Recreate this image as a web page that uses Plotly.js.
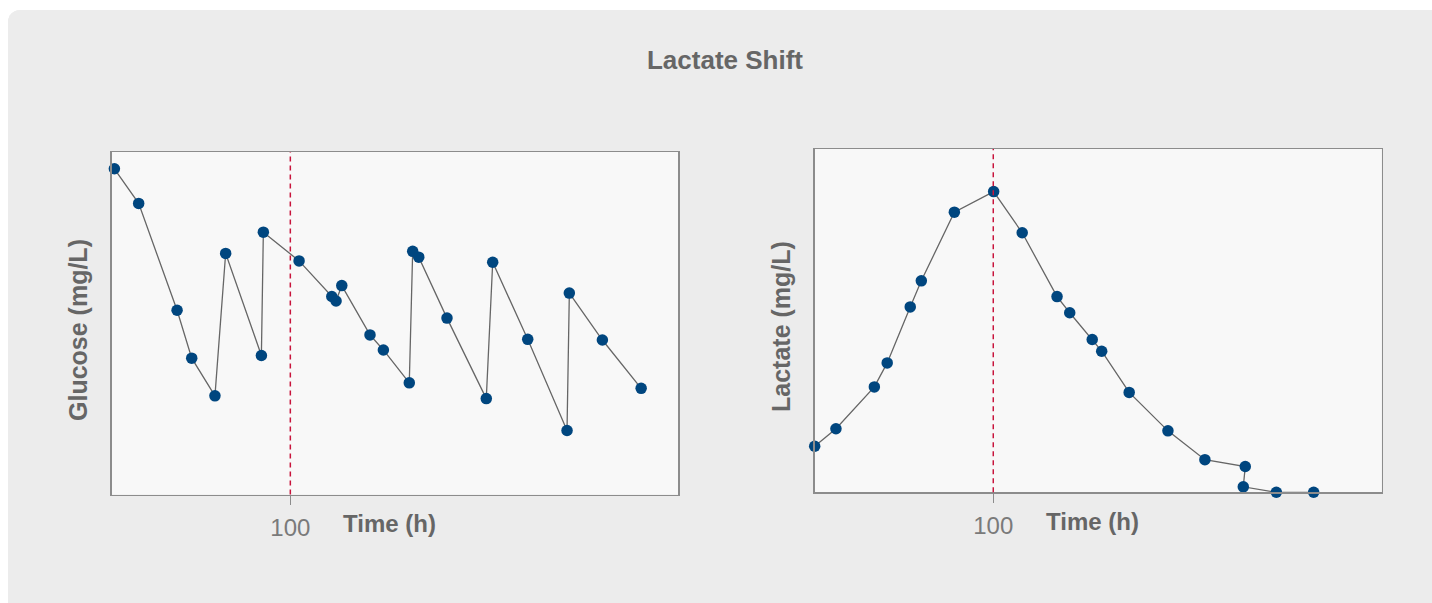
<!DOCTYPE html>
<html>
<head>
<meta charset="utf-8">
<script src="https://cdn.plot.ly/plotly-3.0.1.min.js"></script>
<style>
  html, body { margin: 0; padding: 0; background: #ffffff; overflow: hidden; width: 1432px; height: 603px; }
  #card { position: absolute; left: 8px; top: 10px; width: 1440px; height: 610px; border-radius: 12px; overflow: hidden; background: #ececec; }
  #chart { position: absolute; left: 0; top: 0; width: 1424px; height: 593px; }
</style>
</head>
<body>
<div id="card"><div id="chart"></div></div>
<script>
// Glucose panel (time in h, relative level)
const glucoseTime  = [1.5, 15.1, 36.6, 44.8, 57.8, 63.8, 83.8, 84.9, 104.9, 123.2, 125.6, 128.8, 144.6, 152.1, 166.6, 168.5, 171.9, 187.7, 209.7, 213.3, 232.9, 254.9, 256.2, 274.7, 296.4];
const glucoseValue = [95.1, 85.0, 53.8, 39.8, 28.8, 70.4, 40.6, 76.6, 68.2, 57.8, 56.5, 61.0, 46.6, 42.2, 32.6, 71.0, 69.3, 51.5, 28.0, 67.8, 45.3, 18.7, 58.8, 45.1, 31.0];

// Lactate panel
const lactateTime  = [0, 11.9, 33.4, 40.6, 53.5, 59.7, 78.2, 100.2, 116.2, 135.7, 142.8, 155.4, 160.7, 176.1, 197.8, 218.5, 241.1, 240.0, 258.5, 279.4];
const lactateValue = [13.4, 18.5, 30.7, 37.7, 54.0, 61.6, 81.6, 87.6, 75.6, 57.0, 52.3, 44.5, 41.1, 29.1, 17.9, 9.5, 7.5, 1.6, 0.0, 0.0];

const shiftTime = 100;
const tickValues = [100];
const tickLabels = ['100'];

const chartTitle = 'Lactate Shift';
const xTitle = 'Time (h)';
const glucoseTitle = 'Glucose (mg/L)';
const lactateTitle = 'Lactate (mg/L)';

const W = 1424, H = 593;
const px = v => v / W;
const py = v => 1 - v / H;

const lineStyle = { color: '#666666', width: 1.3 };
const markerStyle = { color: '#00467f', size: 11.5 };

const traces = [
  { x: glucoseTime, y: glucoseValue, xaxis: 'x', yaxis: 'y', type: 'scatter', mode: 'lines+markers',
    line: lineStyle, marker: markerStyle, cliponaxis: false, hoverinfo: 'skip' },
  { x: lactateTime, y: lactateValue, xaxis: 'x2', yaxis: 'y2', type: 'scatter', mode: 'lines+markers',
    line: lineStyle, marker: markerStyle, cliponaxis: false, hoverinfo: 'skip' }
];

const xCommon = {
  showgrid: false, zeroline: false, showline: true, mirror: true,
  linecolor: '#8c8c8c', linewidth: 1.5,
  tickmode: 'array', tickvals: tickValues, ticktext: tickLabels,
  ticks: 'outside', ticklen: 9, tickwidth: 1, tickcolor: '#8c8c8c',
  ticklabelstandoff: 2,
  tickfont: { family: 'Liberation Sans, Arial, sans-serif', size: 24, color: '#7a7a7a' },
  fixedrange: true
};
const yCommon = {
  showgrid: false, zeroline: false, showline: true, mirror: true,
  linecolor: '#8c8c8c', linewidth: 1.5, showticklabels: false, ticks: '',
  fixedrange: true
};

const titleFont = { family: 'Liberation Sans, Arial, sans-serif', size: 25, color: '#666666', weight: 'bold' };

const layout = {
  width: W, height: H,
  margin: { l: 0, r: 0, t: 0, b: 0, pad: 0 },
  paper_bgcolor: '#ececec',
  plot_bgcolor: '#f8f8f8',
  showlegend: false,
  title: {
    text: chartTitle, x: px(717), xref: 'paper', xanchor: 'center',
    y: py(50), yref: 'paper', yanchor: 'middle',
    font: { family: 'Liberation Sans, Arial, sans-serif', size: 26, color: '#666666', weight: 'bold' }
  },
  xaxis: Object.assign({}, xCommon, { domain: [px(103.7), px(670.3)], range: [0, 317.2], anchor: 'y' }),
  yaxis: Object.assign({}, yCommon, { domain: [py(484.5), py(142)], range: [0, 100], anchor: 'x' }),
  xaxis2: Object.assign({}, xCommon, { domain: [px(806.7), px(1373.7)], range: [0, 317.5], anchor: 'y2' }),
  yaxis2: Object.assign({}, yCommon, { domain: [py(482.3), py(139)], range: [0, 100], anchor: 'x2' }),
  shapes: [
    { type: 'line', xref: 'x', yref: 'y domain', x0: shiftTime, x1: shiftTime, y0: 0, y1: 1,
      line: { color: '#c8143c', width: 1.5, dash: '5px,4px' } },
    { type: 'line', xref: 'x2', yref: 'y2 domain', x0: shiftTime, x1: shiftTime, y0: 0, y1: 1,
      line: { color: '#c8143c', width: 1.5, dash: '5px,4px' } }
  ],
  annotations: [
    { text: xTitle, xref: 'paper', yref: 'paper', x: px(381), y: py(513), xanchor: 'center', yanchor: 'middle',
      showarrow: false, font: Object.assign({}, titleFont, { size: 24 }) },
    { text: xTitle, xref: 'paper', yref: 'paper', x: px(1084), y: py(511), xanchor: 'center', yanchor: 'middle',
      showarrow: false, font: Object.assign({}, titleFont, { size: 24 }) },
    { text: glucoseTitle, xref: 'paper', yref: 'paper', x: px(70), y: py(320), xanchor: 'center', yanchor: 'middle',
      textangle: -90, showarrow: false, font: titleFont },
    { text: lactateTitle, xref: 'paper', yref: 'paper', x: px(773), y: py(317), xanchor: 'center', yanchor: 'middle',
      textangle: -90, showarrow: false, font: titleFont }
  ],
  hovermode: false
};

Plotly.newPlot('chart', traces, layout, { displayModeBar: false, staticPlot: true });
</script>
</body>
</html>
